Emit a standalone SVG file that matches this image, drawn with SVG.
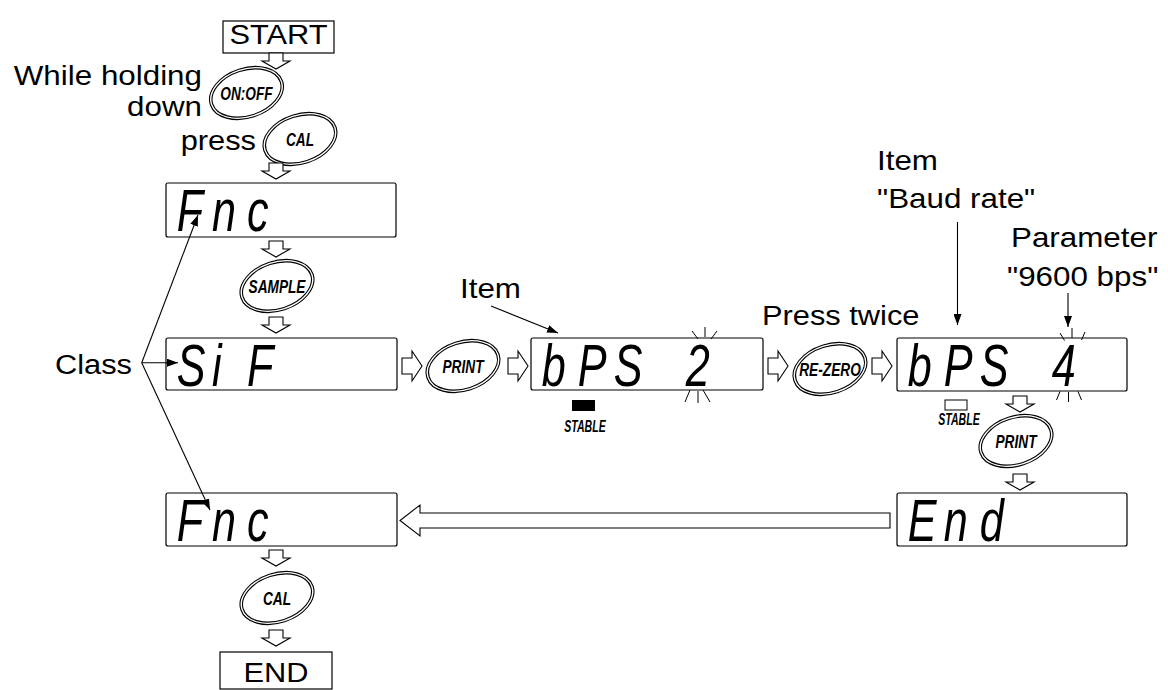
<svg xmlns="http://www.w3.org/2000/svg" width="1168" height="690" viewBox="0 0 1168 690">
<defs>
<style>
.bg{fill:#fff}
.box{fill:#fff;stroke:#000;stroke-width:1.2}
.lcd{fill:#fff;stroke:#000;stroke-width:1.2}
.t{font-family:"Liberation Sans",Arial,sans-serif;font-size:28px;fill:#000}
.seg{font-family:"Liberation Sans",Arial,sans-serif;font-style:italic;font-size:60px;fill:#000}
.btn{font-family:"Liberation Sans",Arial,sans-serif;font-style:italic;font-weight:bold;font-size:19px;fill:#000;text-anchor:middle}
.stb{font-family:"Liberation Sans",Arial,sans-serif;font-style:italic;font-weight:bold;font-size:17px;fill:#000;text-anchor:middle}
.ring{fill:none;stroke:#000;stroke-width:1.1}
.harrow{fill:#fff;stroke:#000;stroke-width:1.1;stroke-linejoin:miter}
.ln{fill:none;stroke:#000;stroke-width:1.1}
.fl{fill:none;stroke:#000;stroke-width:1}
</style>
<marker id="ah" markerWidth="11" markerHeight="8" refX="11" refY="4" orient="auto" markerUnits="userSpaceOnUse">
<path d="M0,0 L11,4 L0,8 z" fill="#000"/>
</marker>
<g id="btnshape">
<ellipse rx="38" ry="25" class="ring"/>
<ellipse rx="35.5" ry="22.5" class="ring"/>
</g>
<path id="darr" d="M-7,0 h14 v8 h7 l-14,8 l-14,-8 h7 z" class="harrow"/>
<path id="rarr" d="M0,-8 h10 v-7 l10,15 l-10,15 v-7 h-10 z" class="harrow"/>
</defs>
<rect width="1168" height="690" class="bg"/>

<g id="start">
<rect x="223" y="21" width="111" height="32" class="box"/>
<text class="t" text-anchor="middle" transform="translate(278.5,44) scale(1.1,1)">START</text>
</g>

<g id="label-holding">
<text class="t" text-anchor="end" transform="translate(202,85) scale(1.12,1)">While holding</text>
<text class="t" text-anchor="end" transform="translate(202,116) scale(1.12,1)">down</text>
<text class="t" text-anchor="end" transform="translate(256,150) scale(1.1,1)">press</text>
</g>

<g id="btn-onoff" transform="translate(246.5,93)">
<use href="#btnshape" transform="rotate(-18)"/>
<text class="btn" transform="translate(0,6.5) scale(0.72,1)">ON:OFF</text>
</g>

<g id="btn-cal1" transform="translate(300,139)">
<use href="#btnshape" transform="rotate(-18)"/>
<text class="btn" transform="translate(0,6.5) scale(0.72,1)">CAL</text>
</g>

<g id="disp-fnc1">
<rect x="166" y="183" width="230" height="54" rx="2" class="lcd"/>
<text class="seg" transform="translate(166,231) scale(0.72,1)" x="15 64 112.5">Fnc</text>
</g>

<g id="btn-sample" transform="translate(277,286)">
<use href="#btnshape" transform="rotate(-18)"/>
<text class="btn" transform="translate(0,6.5) scale(0.72,1)">SAMPLE</text>
</g>

<g id="disp-sif">
<rect x="166" y="338" width="231" height="52" rx="2" class="lcd"/>
<text class="seg" transform="translate(166,386) scale(0.72,1)" x="15 64 112.5">SiF</text>
</g>

<g id="label-class">
<text class="t" transform="translate(55,374) scale(1.1,1)">Class</text>
</g>

<g id="btn-print1" transform="translate(463,366)">
<use href="#btnshape" transform="rotate(-18)"/>
<text class="btn" transform="translate(0,6.5) scale(0.72,1)">PRINT</text>
</g>

<g id="disp-bps2">
<rect x="531" y="338" width="232" height="52" rx="2" class="lcd"/>
<text class="seg" transform="translate(531,386) scale(0.72,1)" x="15 65 115 165 215">bPS 2</text>
<g class="fl">
<line x1="705" y1="327" x2="705" y2="337"/>
<line x1="692" y1="331" x2="698" y2="339"/>
<line x1="717" y1="331" x2="711" y2="339"/>
<line x1="698" y1="391" x2="698" y2="403"/>
<line x1="690" y1="390" x2="685" y2="402"/>
<line x1="703" y1="390" x2="710" y2="402"/>
</g>
<rect x="572" y="400" width="23" height="11" fill="#000"/>
<text class="stb" transform="translate(585,432) scale(0.62,1)">STABLE</text>
</g>

<g id="label-item1">
<text class="t" transform="translate(460,298) scale(1.12,1)">Item</text>
</g>

<g id="label-twice">
<text class="t" transform="translate(762,325) scale(1.1,1)">Press twice</text>
</g>

<g id="btn-rezero" transform="translate(830,369)">
<use href="#btnshape" transform="rotate(-18)"/>
<text class="btn" transform="translate(0,6.5) scale(0.72,1)">RE-ZERO</text>
</g>

<g id="disp-bps4">
<rect x="897" y="338" width="230" height="53" rx="2" class="lcd"/>
<text class="seg" transform="translate(897,386) scale(0.72,1)" x="15 65 115 165 215">bPS 4</text>
<g class="fl">
<line x1="1072" y1="328" x2="1072" y2="338"/>
<line x1="1060" y1="333" x2="1064.5" y2="340.5"/>
<line x1="1085" y1="332" x2="1081.5" y2="340"/>
<line x1="1068.5" y1="392" x2="1068.5" y2="402"/>
<line x1="1060" y1="391.5" x2="1056.5" y2="400"/>
<line x1="1078" y1="391.5" x2="1081.5" y2="400"/>
</g>
<rect x="945" y="400" width="22" height="10" fill="#fff" stroke="#000" stroke-width="1"/>
<text class="stb" transform="translate(959,425) scale(0.62,1)">STABLE</text>
</g>

<g id="label-item2">
<text class="t" transform="translate(877,170) scale(1.12,1)">Item</text>
<text class="t" transform="translate(877,208) scale(1.12,1)">"Baud rate"</text>
</g>

<g id="label-param">
<text class="t" transform="translate(1011,247) scale(1.12,1)">Parameter</text>
<text class="t" transform="translate(1007,286) scale(1.12,1)">"9600 bps"</text>
</g>

<g id="btn-print2" transform="translate(1016,441)">
<use href="#btnshape" transform="rotate(-18)"/>
<text class="btn" transform="translate(0,6.5) scale(0.72,1)">PRINT</text>
</g>

<g id="disp-end">
<rect x="897" y="493" width="230" height="53" rx="2" class="lcd"/>
<text class="seg" transform="translate(897,541) scale(0.72,1)" x="15 65 115">End</text>
</g>

<g id="disp-fnc2">
<rect x="166" y="493" width="231" height="53" rx="2" class="lcd"/>
<text class="seg" transform="translate(166,541) scale(0.72,1)" x="15 64 112.5">Fnc</text>
</g>

<g id="btn-cal2" transform="translate(277,598)">
<use href="#btnshape" transform="rotate(-18)"/>
<text class="btn" transform="translate(0,6.5) scale(0.72,1)">CAL</text>
</g>

<g id="end">
<rect x="220" y="652" width="112" height="37" class="box"/>
<text class="t" text-anchor="middle" transform="translate(276,682) scale(1.1,1)">END</text>
</g>

<g id="connectors">
<use href="#darr" x="276" y="53"/>
<use href="#darr" x="276" y="163"/>
<use href="#darr" x="276" y="241"/>
<use href="#darr" x="276" y="317"/>
<use href="#darr" x="276" y="550"/>
<use href="#darr" x="276" y="630"/>
<use href="#darr" x="1020" y="396"/>
<use href="#darr" x="1020" y="474"/>
<use href="#rarr" x="402" y="366"/>
<use href="#rarr" x="508" y="366"/>
<use href="#rarr" x="768" y="366"/>
<use href="#rarr" x="872" y="366"/>
<path d="M890,513 h-470 v-8 l-20,15.5 l20,15.5 v-8 h470 z" class="harrow"/>
<line x1="141.7" y1="362.7" x2="178" y2="362.7" class="ln" marker-end="url(#ah)"/>
<line x1="141.7" y1="362.7" x2="198" y2="215" class="ln" marker-end="url(#ah)"/>
<line x1="141.7" y1="362.7" x2="210" y2="510" class="ln" marker-end="url(#ah)"/>
<line x1="491" y1="306" x2="558" y2="333" class="ln" marker-end="url(#ah)"/>
<line x1="957.5" y1="222" x2="957.5" y2="325" class="ln" marker-end="url(#ah)"/>
<line x1="1068" y1="293" x2="1068" y2="327" class="ln" marker-end="url(#ah)"/>
</g>
</svg>
